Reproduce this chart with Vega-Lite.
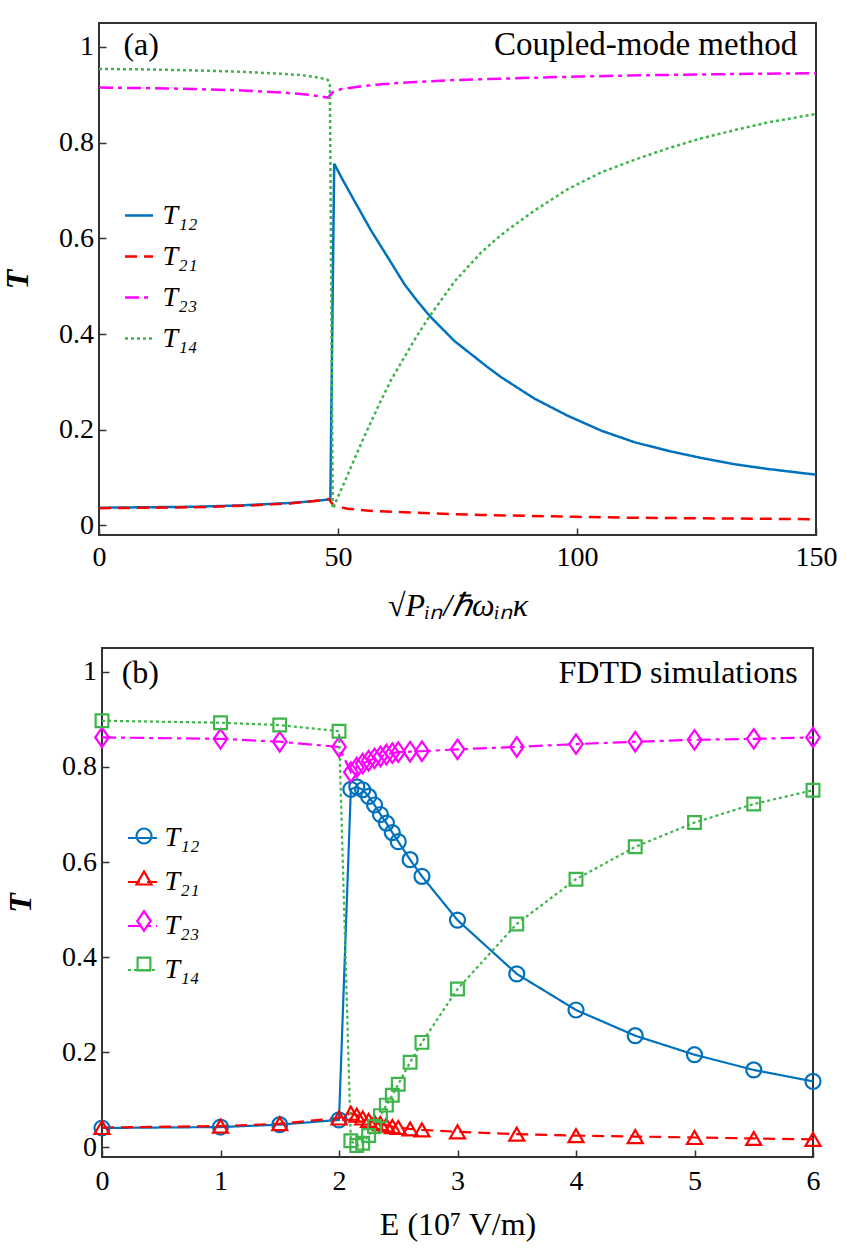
{
  "$schema": "https://vega.github.io/schema/vega-lite/v6.json",
  "padding": {"left": 0, "top": 22, "right": 5, "bottom": 5},
  "background": "white",
  "bounds": "flush",
  "center": true,
  "spacing": 113,
  "resolve": {
    "scale": {"color": "independent", "strokeDash": "independent", "shape": "independent"},
    "legend": {"color": "independent", "strokeDash": "independent", "shape": "independent"}
  },
  "config": {
    "font": "Liberation Serif",
    "view": {"stroke": "#333333", "strokeWidth": 2},
    "axis": {
      "domain": false, "grid": false, "ticks": true, "tickSize": -7, "tickColor": "#333333", "tickWidth": 1.5,
      "labelFont": "Liberation Serif", "labelFontSize": 28, "labelColor": "black", "labelFlush": false, "labelOverlap": false, "labelBound": false,
      "titleFont": "Liberation Serif", "titleFontSize": 32, "titleColor": "black", "titleFontWeight": "normal"
    }
  },
  "datasets": {
    "a": [
      {"x": 0, "T": 0.037, "s": "T₁₂"}, {"x": 10, "T": 0.038, "s": "T₁₂"}, {"x": 20, "T": 0.039, "s": "T₁₂"}, {"x": 30, "T": 0.042, "s": "T₁₂"}, {"x": 36, "T": 0.045, "s": "T₁₂"}, {"x": 40, "T": 0.047, "s": "T₁₂"}, {"x": 44, "T": 0.05, "s": "T₁₂"}, {"x": 47, "T": 0.053, "s": "T₁₂"}, {"x": 48.4, "T": 0.055, "s": "T₁₂"}, {"x": 49.2, "T": 0.756, "s": "T₁₂"}, {"x": 51, "T": 0.722, "s": "T₁₂"}, {"x": 53.5, "T": 0.677, "s": "T₁₂"}, {"x": 57, "T": 0.615, "s": "T₁₂"}, {"x": 60.5, "T": 0.559, "s": "T₁₂"}, {"x": 63.9, "T": 0.504, "s": "T₁₂"}, {"x": 66.5, "T": 0.47, "s": "T₁₂"}, {"x": 69.2, "T": 0.4375, "s": "T₁₂"}, {"x": 74.4, "T": 0.385, "s": "T₁₂"}, {"x": 81.4, "T": 0.33, "s": "T₁₂"}, {"x": 84.1, "T": 0.31, "s": "T₁₂"}, {"x": 88.3, "T": 0.283, "s": "T₁₂"}, {"x": 91.1, "T": 0.265, "s": "T₁₂"}, {"x": 98.1, "T": 0.229, "s": "T₁₂"}, {"x": 105.1, "T": 0.198, "s": "T₁₂"}, {"x": 112, "T": 0.174, "s": "T₁₂"}, {"x": 119, "T": 0.156, "s": "T₁₂"}, {"x": 126, "T": 0.141, "s": "T₁₂"}, {"x": 132.9, "T": 0.128, "s": "T₁₂"}, {"x": 139.9, "T": 0.118, "s": "T₁₂"}, {"x": 145, "T": 0.112, "s": "T₁₂"}, {"x": 150, "T": 0.106, "s": "T₁₂"},
      {"x": 0, "T": 0.036, "s": "T₂₁"}, {"x": 10, "T": 0.037, "s": "T₂₁"}, {"x": 20, "T": 0.038, "s": "T₂₁"}, {"x": 30, "T": 0.041, "s": "T₂₁"}, {"x": 36, "T": 0.044, "s": "T₂₁"}, {"x": 40, "T": 0.046, "s": "T₂₁"}, {"x": 44, "T": 0.05, "s": "T₂₁"}, {"x": 47, "T": 0.053, "s": "T₂₁"}, {"x": 48.1, "T": 0.055, "s": "T₂₁"}, {"x": 49, "T": 0.042, "s": "T₂₁"}, {"x": 50, "T": 0.039, "s": "T₂₁"}, {"x": 52, "T": 0.035, "s": "T₂₁"}, {"x": 56, "T": 0.031, "s": "T₂₁"}, {"x": 60, "T": 0.029, "s": "T₂₁"}, {"x": 70, "T": 0.025, "s": "T₂₁"}, {"x": 80, "T": 0.022, "s": "T₂₁"}, {"x": 90, "T": 0.02, "s": "T₂₁"}, {"x": 100, "T": 0.018, "s": "T₂₁"}, {"x": 112, "T": 0.016, "s": "T₂₁"}, {"x": 125, "T": 0.015, "s": "T₂₁"}, {"x": 137, "T": 0.014, "s": "T₂₁"}, {"x": 150, "T": 0.013, "s": "T₂₁"},
      {"x": 0, "T": 0.915, "s": "T₂₃"}, {"x": 10, "T": 0.914, "s": "T₂₃"}, {"x": 20, "T": 0.912, "s": "T₂₃"}, {"x": 30, "T": 0.909, "s": "T₂₃"}, {"x": 38, "T": 0.905, "s": "T₂₃"}, {"x": 44, "T": 0.9, "s": "T₂₃"}, {"x": 47.9, "T": 0.894, "s": "T₂₃"}, {"x": 49, "T": 0.906, "s": "T₂₃"}, {"x": 50.7, "T": 0.912, "s": "T₂₃"}, {"x": 55, "T": 0.918, "s": "T₂₃"}, {"x": 59, "T": 0.922, "s": "T₂₃"}, {"x": 65, "T": 0.926, "s": "T₂₃"}, {"x": 75, "T": 0.931, "s": "T₂₃"}, {"x": 85, "T": 0.934, "s": "T₂₃"}, {"x": 100, "T": 0.938, "s": "T₂₃"}, {"x": 115, "T": 0.941, "s": "T₂₃"}, {"x": 130, "T": 0.943, "s": "T₂₃"}, {"x": 150, "T": 0.945, "s": "T₂₃"},
      {"x": 0, "T": 0.954, "s": "T₁₄"}, {"x": 10, "T": 0.953, "s": "T₁₄"}, {"x": 20, "T": 0.951, "s": "T₁₄"}, {"x": 30, "T": 0.948, "s": "T₁₄"}, {"x": 38, "T": 0.944, "s": "T₁₄"}, {"x": 42.3, "T": 0.941, "s": "T₁₄"}, {"x": 46, "T": 0.936, "s": "T₁₄"}, {"x": 47.9, "T": 0.931, "s": "T₁₄"}, {"x": 48.3, "T": 0.92, "s": "T₁₄"}, {"x": 48.9, "T": 0.035, "s": "T₁₄"}, {"x": 52, "T": 0.105, "s": "T₁₄"}, {"x": 55, "T": 0.175, "s": "T₁₄"}, {"x": 58.7, "T": 0.255, "s": "T₁₄"}, {"x": 61, "T": 0.302, "s": "T₁₄"}, {"x": 63.9, "T": 0.352, "s": "T₁₄"}, {"x": 66.5, "T": 0.396, "s": "T₁₄"}, {"x": 69.2, "T": 0.4375, "s": "T₁₄"}, {"x": 74.4, "T": 0.51, "s": "T₁₄"}, {"x": 80, "T": 0.571, "s": "T₁₄"}, {"x": 84.1, "T": 0.607, "s": "T₁₄"}, {"x": 88.3, "T": 0.638, "s": "T₁₄"}, {"x": 91.1, "T": 0.658, "s": "T₁₄"}, {"x": 98.1, "T": 0.703, "s": "T₁₄"}, {"x": 105.1, "T": 0.738, "s": "T₁₄"}, {"x": 112, "T": 0.764, "s": "T₁₄"}, {"x": 119, "T": 0.788, "s": "T₁₄"}, {"x": 126, "T": 0.809, "s": "T₁₄"}, {"x": 132.9, "T": 0.826, "s": "T₁₄"}, {"x": 139.9, "T": 0.842, "s": "T₁₄"}, {"x": 150, "T": 0.86, "s": "T₁₄"}
    ],
    "b": [
      {"E": 0, "T": 0.041, "s": "T₁₂"}, {"E": 1, "T": 0.043, "s": "T₁₂"}, {"E": 1.5, "T": 0.048, "s": "T₁₂"}, {"E": 2, "T": 0.058, "s": "T₁₂"}, {"E": 2.1, "T": 0.753, "s": "T₁₂"}, {"E": 2.15, "T": 0.758, "s": "T₁₂"}, {"E": 2.2, "T": 0.752, "s": "T₁₂"}, {"E": 2.25, "T": 0.738, "s": "T₁₂"}, {"E": 2.3, "T": 0.72, "s": "T₁₂"}, {"E": 2.35, "T": 0.7, "s": "T₁₂"}, {"E": 2.4, "T": 0.682, "s": "T₁₂"}, {"E": 2.45, "T": 0.662, "s": "T₁₂"}, {"E": 2.5, "T": 0.643, "s": "T₁₂"}, {"E": 2.6, "T": 0.605, "s": "T₁₂"}, {"E": 2.7, "T": 0.57, "s": "T₁₂"}, {"E": 3, "T": 0.478, "s": "T₁₂"}, {"E": 3.5, "T": 0.365, "s": "T₁₂"}, {"E": 4, "T": 0.289, "s": "T₁₂"}, {"E": 4.5, "T": 0.235, "s": "T₁₂"}, {"E": 5, "T": 0.195, "s": "T₁₂"}, {"E": 5.5, "T": 0.163, "s": "T₁₂"}, {"E": 6, "T": 0.139, "s": "T₁₂"},
      {"E": 0, "T": 0.042, "s": "T₂₁"}, {"E": 1, "T": 0.045, "s": "T₂₁"}, {"E": 1.5, "T": 0.05, "s": "T₂₁"}, {"E": 2, "T": 0.062, "s": "T₂₁"}, {"E": 2.1, "T": 0.072, "s": "T₂₁"}, {"E": 2.15, "T": 0.068, "s": "T₂₁"}, {"E": 2.2, "T": 0.062, "s": "T₂₁"}, {"E": 2.25, "T": 0.057, "s": "T₂₁"}, {"E": 2.3, "T": 0.053, "s": "T₂₁"}, {"E": 2.35, "T": 0.05, "s": "T₂₁"}, {"E": 2.4, "T": 0.047, "s": "T₂₁"}, {"E": 2.45, "T": 0.044, "s": "T₂₁"}, {"E": 2.5, "T": 0.042, "s": "T₂₁"}, {"E": 2.6, "T": 0.039, "s": "T₂₁"}, {"E": 2.7, "T": 0.037, "s": "T₂₁"}, {"E": 3, "T": 0.033, "s": "T₂₁"}, {"E": 3.5, "T": 0.028, "s": "T₂₁"}, {"E": 4, "T": 0.025, "s": "T₂₁"}, {"E": 4.5, "T": 0.023, "s": "T₂₁"}, {"E": 5, "T": 0.021, "s": "T₂₁"}, {"E": 5.5, "T": 0.019, "s": "T₂₁"}, {"E": 6, "T": 0.017, "s": "T₂₁"},
      {"E": 0, "T": 0.862, "s": "T₂₃"}, {"E": 1, "T": 0.859, "s": "T₂₃"}, {"E": 1.5, "T": 0.853, "s": "T₂₃"}, {"E": 2, "T": 0.842, "s": "T₂₃"}, {"E": 2.1, "T": 0.789, "s": "T₂₃"}, {"E": 2.15, "T": 0.799, "s": "T₂₃"}, {"E": 2.2, "T": 0.807, "s": "T₂₃"}, {"E": 2.25, "T": 0.813, "s": "T₂₃"}, {"E": 2.3, "T": 0.818, "s": "T₂₃"}, {"E": 2.35, "T": 0.822, "s": "T₂₃"}, {"E": 2.4, "T": 0.826, "s": "T₂₃"}, {"E": 2.45, "T": 0.829, "s": "T₂₃"}, {"E": 2.5, "T": 0.831, "s": "T₂₃"}, {"E": 2.6, "T": 0.832, "s": "T₂₃"}, {"E": 2.7, "T": 0.833, "s": "T₂₃"}, {"E": 3, "T": 0.837, "s": "T₂₃"}, {"E": 3.5, "T": 0.842, "s": "T₂₃"}, {"E": 4, "T": 0.848, "s": "T₂₃"}, {"E": 4.5, "T": 0.853, "s": "T₂₃"}, {"E": 5, "T": 0.857, "s": "T₂₃"}, {"E": 5.5, "T": 0.859, "s": "T₂₃"}, {"E": 6, "T": 0.862, "s": "T₂₃"},
      {"E": 0, "T": 0.897, "s": "T₁₄"}, {"E": 1, "T": 0.893, "s": "T₁₄"}, {"E": 1.5, "T": 0.888, "s": "T₁₄"}, {"E": 2, "T": 0.875, "s": "T₁₄"}, {"E": 2.1, "T": 0.014, "s": "T₁₄"}, {"E": 2.15, "T": 0.004, "s": "T₁₄"}, {"E": 2.2, "T": 0.009, "s": "T₁₄"}, {"E": 2.25, "T": 0.025, "s": "T₁₄"}, {"E": 2.3, "T": 0.044, "s": "T₁₄"}, {"E": 2.35, "T": 0.067, "s": "T₁₄"}, {"E": 2.4, "T": 0.089, "s": "T₁₄"}, {"E": 2.45, "T": 0.11, "s": "T₁₄"}, {"E": 2.5, "T": 0.133, "s": "T₁₄"}, {"E": 2.6, "T": 0.179, "s": "T₁₄"}, {"E": 2.7, "T": 0.221, "s": "T₁₄"}, {"E": 3, "T": 0.333, "s": "T₁₄"}, {"E": 3.5, "T": 0.47, "s": "T₁₄"}, {"E": 4, "T": 0.564, "s": "T₁₄"}, {"E": 4.5, "T": 0.632, "s": "T₁₄"}, {"E": 5, "T": 0.683, "s": "T₁₄"}, {"E": 5.5, "T": 0.722, "s": "T₁₄"}, {"E": 6, "T": 0.751, "s": "T₁₄"}
    ]
  },
  "vconcat": [
    {
      "width": 717,
      "height": 512,
      "layer": [
        {
          "data": {"name": "a"},
          "mark": {"type": "line", "strokeWidth": 2.5},
          "encoding": {
            "x": {"field": "x", "type": "quantitative", "scale": {"domain": [0, 150], "nice": false},
                  "axis": {"values": [0, 50, 100, 150], "format": "d", "labelPadding": 15, "titlePadding": 19, "title": "√Pᵢₙ/ℏωᵢₙκ", "titleFontStyle": "italic"}},
            "y": {"field": "T", "type": "quantitative", "scale": {"domain": [-0.02, 1.05], "nice": false},
                  "axis": {"values": [0, 0.2, 0.4, 0.6, 0.8, 1], "format": "~g", "labelPadding": 12.5, "titlePadding": 24, "title": "T", "titleFontStyle": "italic", "titleFontWeight": "bold"}},
            "color": {"field": "s", "type": "nominal",
                      "scale": {"domain": ["T₁₂", "T₂₁", "T₂₃", "T₁₄"], "range": ["#0072BD", "#FF0000", "#FF00FF", "#3DB54A"]},
                      "legend": {"orient": "none", "legendX": 24.5, "legendY": 177, "title": null, "padding": 0, "symbolType": "stroke", "symbolSize": 784, "symbolStrokeWidth": 2.5, "labelFont": "Liberation Serif", "labelFontSize": 28, "labelFontStyle": "italic", "labelColor": "black", "labelOffset": 8, "rowPadding": 11}},
            "strokeDash": {"field": "s", "type": "nominal",
                      "scale": {"domain": ["T₁₂", "T₂₁", "T₂₃", "T₁₄"], "range": [[1, 0], [12, 7], [14, 5, 4, 5], [3, 3]]},
                      "legend": {"orient": "none", "legendX": 24.5, "legendY": 177, "title": null, "padding": 0, "symbolType": "stroke", "symbolSize": 784, "symbolStrokeWidth": 2.5, "labelFont": "Liberation Serif", "labelFontSize": 28, "labelFontStyle": "italic", "labelColor": "black", "labelOffset": 8, "rowPadding": 11}}
          }
        },
        {
          "data": {"values": [{}]},
          "mark": {"type": "text", "text": "(a)", "align": "left", "baseline": "alphabetic", "fontSize": 32, "font": "Liberation Serif", "color": "black"},
          "encoding": {"x": {"datum": 5.1}, "y": {"datum": 0.984}}
        },
        {
          "data": {"values": [{}]},
          "mark": {"type": "text", "text": "Coupled-mode method", "align": "right", "baseline": "alphabetic", "fontSize": 33, "font": "Liberation Serif", "color": "black"},
          "encoding": {"x": {"datum": 146.1}, "y": {"datum": 0.984}}
        }
      ]
    },
    {
      "width": 711,
      "height": 509,
      "layer": [
        {
          "data": {"name": "b"},
          "mark": {"type": "line", "strokeWidth": 2.2},
          "encoding": {
            "x": {"field": "E", "type": "quantitative", "scale": {"domain": [0, 6], "nice": false},
                  "axis": {"values": [0, 1, 2, 3, 4, 5, 6], "format": "d", "labelPadding": 17.5, "titlePadding": 14, "title": "E (10⁷ V/m)"}},
            "y": {"field": "T", "type": "quantitative", "scale": {"domain": [-0.02, 1.05], "nice": false},
                  "axis": {"values": [0, 0.2, 0.4, 0.6, 0.8, 1], "format": "~g", "labelPadding": 12.5, "titlePadding": 24, "title": "T", "titleFontStyle": "italic", "titleFontWeight": "bold"}},
            "color": {"field": "s", "type": "nominal",
                      "scale": {"domain": ["T₁₂", "T₂₁", "T₂₃", "T₁₄"], "range": ["#0072BD", "#FF0000", "#FF00FF", "#3DB54A"]},
                      "legend": {"orient": "none", "legendX": 24.5, "legendY": 174, "title": null, "padding": 0, "symbolType": "stroke", "symbolSize": 841, "symbolStrokeWidth": 2.2, "labelFont": "Liberation Serif", "labelFontSize": 28, "labelFontStyle": "italic", "labelColor": "black", "labelOffset": 6, "rowPadding": 14}},
            "strokeDash": {"field": "s", "type": "nominal",
                      "scale": {"domain": ["T₁₂", "T₂₁", "T₂₃", "T₁₄"], "range": [[1, 0], [12, 7], [14, 5, 4, 5], [3, 3]]},
                      "legend": {"orient": "none", "legendX": 24.5, "legendY": 174, "title": null, "padding": 0, "symbolType": "stroke", "symbolSize": 841, "symbolStrokeWidth": 2.2, "labelFont": "Liberation Serif", "labelFontSize": 28, "labelFontStyle": "italic", "labelColor": "black", "labelOffset": 6, "rowPadding": 14}}
          }
        },
        {
          "data": {"name": "b"},
          "mark": {"type": "point", "filled": false, "strokeWidth": 2.2, "size": 225, "opacity": 1},
          "encoding": {
            "x": {"field": "E", "type": "quantitative"},
            "y": {"field": "T", "type": "quantitative"},
            "color": {"field": "s", "type": "nominal",
                      "scale": {"domain": ["T₁₂", "T₂₁", "T₂₃", "T₁₄"], "range": ["#0072BD", "#FF0000", "#FF00FF", "#3DB54A"]},
                      "legend": {"orient": "none", "legendX": 28, "legendY": 174, "title": null, "padding": 0, "symbolSize": 225, "symbolStrokeWidth": 2.2, "labelFont": "Liberation Serif", "labelFontSize": 28, "labelExpr": "' '", "labelOffset": 15, "rowPadding": 14}},
            "shape": {"field": "s", "type": "nominal",
                      "scale": {"domain": ["T₁₂", "T₂₁", "T₂₃", "T₁₄"], "range": ["circle", "triangle-up", "M0,-1.3L0.9,0L0,1.3L-0.9,0Z", "M-0.85,-0.85H0.85V0.85H-0.85Z"]},
                      "legend": {"orient": "none", "legendX": 28, "legendY": 174, "title": null, "padding": 0, "symbolSize": 225, "symbolStrokeWidth": 2.2, "labelFont": "Liberation Serif", "labelFontSize": 28, "labelExpr": "' '", "labelOffset": 15, "rowPadding": 14}}
          }
        },
        {
          "data": {"values": [{}]},
          "mark": {"type": "text", "text": "(b)", "align": "left", "baseline": "alphabetic", "fontSize": 32, "font": "Liberation Serif", "color": "black"},
          "encoding": {"x": {"datum": 0.166}, "y": {"datum": 0.976}}
        },
        {
          "data": {"values": [{}]},
          "mark": {"type": "text", "text": "FDTD simulations", "align": "right", "baseline": "alphabetic", "fontSize": 32, "font": "Liberation Serif", "color": "black"},
          "encoding": {"x": {"datum": 5.87}, "y": {"datum": 0.976}}
        }
      ],
      "resolve": {
        "scale": {"color": "independent", "strokeDash": "independent", "shape": "independent"},
        "legend": {"color": "independent", "strokeDash": "independent", "shape": "independent"}
      }
    }
  ]
}
